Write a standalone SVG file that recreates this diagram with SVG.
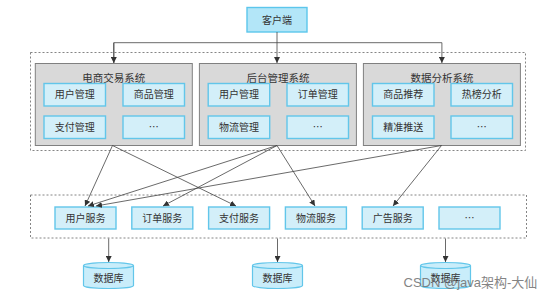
<svg xmlns="http://www.w3.org/2000/svg" width="553" height="299" viewBox="0 0 553 299">
<defs>
<marker id="ah" markerWidth="6" markerHeight="6" refX="6" refY="3" orient="auto" markerUnits="userSpaceOnUse">
<path d="M0,0 L6,3 L0,6 z" fill="#333"/>
</marker>
<style>
text{font-family:"Noto Sans CJK SC","Noto Sans",sans-serif;font-size:10px;fill:#333;text-anchor:middle}
.t{font-size:10.5px}
.sys{fill:#d9d9d9;stroke:#808080;stroke-width:1}
.box{fill:#d3eff9;stroke:#62c6ea;stroke-width:1.4}
.cli{fill:#b3e6f8;stroke:#5cc6ec;stroke-width:1.4}
.dash{fill:none;stroke:#666;stroke-width:0.8;stroke-dasharray:2,2}
.ln{fill:none;stroke:#444;stroke-width:0.8}
.db{fill:#c9edfa;stroke:#62c6ea;stroke-width:1.2}
.wm{font-family:"Liberation Sans","Noto Sans CJK SC",sans-serif;font-size:13px;fill:#777;text-anchor:start;opacity:0.9}
</style>
</defs>
<rect width="553" height="299" fill="#fff"/>

<rect class="dash" x="30.5" y="52.5" width="495" height="98"/>
<rect class="dash" x="30.5" y="195" width="496" height="43"/>

<g id="client">
<rect class="cli" x="247" y="7.5" width="60" height="24.5"/>
<text x="277" y="23.5">客户端</text>
</g>

<g id="sys1">
<rect class="sys" x="35.3" y="63.5" width="157" height="82"/>
<text class="t" x="113.8" y="81.5">电商交易系统</text>
<rect class="box" x="44" y="83.5" width="61.5" height="22.5"/><text x="74.8" y="98.3">用户管理</text>
<rect class="box" x="123" y="83.5" width="61.5" height="22.5"/><text x="153.8" y="98.3">商品管理</text>
<rect class="box" x="44" y="116" width="61.5" height="22.5"/><text x="74.8" y="130.8">支付管理</text>
<rect class="box" x="123" y="116" width="61.5" height="22.5"/><text x="153.8" y="130.8">…</text>
</g>

<g id="sys2">
<rect class="sys" x="199.4" y="63.5" width="157" height="82"/>
<text class="t" x="277.9" y="81.5">后台管理系统</text>
<rect class="box" x="208.2" y="83.5" width="61.5" height="22.5"/><text x="239" y="98.3">用户管理</text>
<rect class="box" x="287" y="83.5" width="61.5" height="22.5"/><text x="317.8" y="98.3">订单管理</text>
<rect class="box" x="208.2" y="116" width="61.5" height="22.5"/><text x="239" y="130.8">物流管理</text>
<rect class="box" x="287" y="116" width="61.5" height="22.5"/><text x="317.8" y="130.8">…</text>
</g>

<g id="sys3">
<rect class="sys" x="363.4" y="63.5" width="157" height="82"/>
<text class="t" x="441.9" y="81.5">数据分析系统</text>
<rect class="box" x="372.5" y="83.5" width="61.5" height="22.5"/><text x="403.3" y="98.3">商品推荐</text>
<rect class="box" x="451" y="83.5" width="61.5" height="22.5"/><text x="481.8" y="98.3">热榜分析</text>
<rect class="box" x="372.5" y="116" width="61.5" height="22.5"/><text x="403.3" y="130.8">精准推送</text>
<rect class="box" x="451" y="116" width="61.5" height="22.5"/><text x="481.8" y="130.8">…</text>
</g>

<g id="svc-user"><rect class="box" x="55" y="207" width="61" height="22"/><text x="85.5" y="221.6">用户服务</text></g>
<g id="svc-order"><rect class="box" x="131.8" y="207" width="61" height="22"/><text x="162.3" y="221.6">订单服务</text></g>
<g id="svc-pay"><rect class="box" x="208.6" y="207" width="61" height="22"/><text x="239.1" y="221.6">支付服务</text></g>
<g id="svc-logistics"><rect class="box" x="285.4" y="207" width="61" height="22"/><text x="315.9" y="221.6">物流服务</text></g>
<g id="svc-ad"><rect class="box" x="362.2" y="207" width="61" height="22"/><text x="392.7" y="221.6">广告服务</text></g>
<g id="svc-more"><rect class="box" x="439" y="207" width="61" height="22"/><text x="469.5" y="221.6">…</text></g>

<g id="db1">
<path class="db" d="M83.5,265.5 V285.5 A25,3 0 0 0 133.5,285.5 V265.5"/>
<ellipse class="db" cx="108.5" cy="265.5" rx="25" ry="3"/>
<text x="108.5" y="281.6">数据库</text>
</g>
<g id="db2">
<path class="db" d="M252.5,265.5 V285.5 A25,3 0 0 0 302.5,285.5 V265.5"/>
<ellipse class="db" cx="277.5" cy="265.5" rx="25" ry="3"/>
<text x="277.5" y="281.6">数据库</text>
</g>
<g id="db3">
<path class="db" d="M420.5,265.5 V285.5 A25,3 0 0 0 470.5,285.5 V265.5"/>
<ellipse class="db" cx="445.5" cy="265.5" rx="25" ry="3"/>
<text x="445.5" y="281.6">数据库</text>
</g>

<g id="connectors">
<path class="ln" d="M277,32 V63" marker-end="url(#ah)"/>
<path class="ln" d="M113.8,63 V42.7 H441.9 V63" marker-end="url(#ah)"/>
<path class="ln" d="M113.8,42.7 V63" marker-end="url(#ah)"/>
<path class="ln" d="M112.5,145.5 L85,206" marker-end="url(#ah)"/>
<path class="ln" d="M112.5,145.5 L236,206" marker-end="url(#ah)"/>
<path class="ln" d="M277,145.5 L88,206" marker-end="url(#ah)"/>
<path class="ln" d="M277,145.5 L163,206" marker-end="url(#ah)"/>
<path class="ln" d="M277,145.5 L315,206" marker-end="url(#ah)"/>
<path class="ln" d="M441.5,145.5 L96,206" marker-end="url(#ah)"/>
<path class="ln" d="M441.5,145.5 L393,206" marker-end="url(#ah)"/>
<path class="ln" d="M108.7,238.5 V262" marker-end="url(#ah)"/>
<path class="ln" d="M277.5,238.5 V262" marker-end="url(#ah)"/>
<path class="ln" d="M445.5,238.5 V262" marker-end="url(#ah)"/>
</g>

<text class="wm" x="403.5" y="287">CSDN @java架构-大仙</text>
</svg>
